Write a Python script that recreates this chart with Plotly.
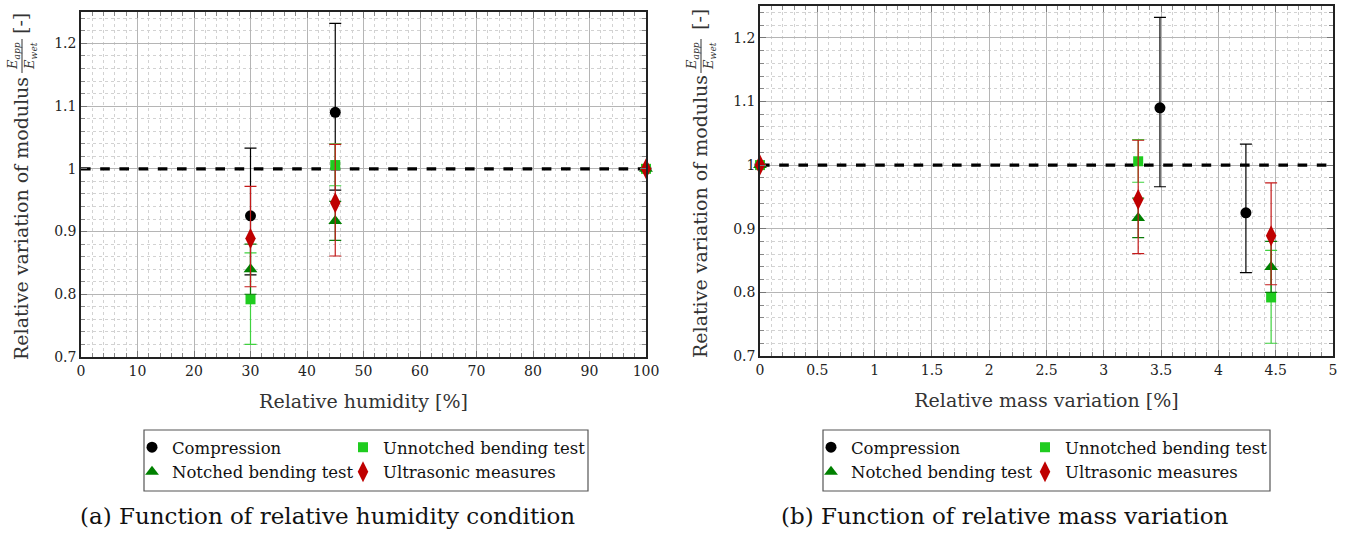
import plotly.graph_objects as go

# ---------------- data ----------------
humidity = [30, 45, 100]                 # relative humidity [%]
mass_compression = [4.24, 3.49, 0.0]     # relative mass variation [%] (compression specimens)
mass_other = [4.46, 3.30, 0.0]           # relative mass variation [%] (bending / ultrasonic specimens)

compression = [0.925, 1.090, 1.0]
compression_plus = [0.108, 0.142, 0.0]
compression_minus = [0.094, 0.124, 0.0]

unnotched = [0.792, 1.006, 1.0]
unnotched_plus = [0.074, 0.034, 0.0]
unnotched_minus = [0.072, 0.033, 0.0]

notched = [0.840, 0.917, 1.0]
notched_plus = [0.040, 0.031, 0.0]
notched_minus = [0.040, 0.031, 0.0]

ultrasonic = [0.889, 0.946, 1.0]
ultrasonic_plus = [0.083, 0.093, 0.0]
ultrasonic_minus = [0.077, 0.085, 0.0]

reference_level = 1.0
humidity_range = [0, 100]
mass_range = [0, 5]
ratio_range = [0.7, 1.25]

series_names = ["Compression", "Unnotched bending test", "Notched bending test", "Ultrasonic measures"]
caption_a = "(a) Function of relative humidity condition"
caption_b = "(b) Function of relative mass variation"

# ---------------- figure ----------------
W, H = 1349, 534
SERIF = "DejaVu Serif"

def px(x):
    return x / W

def py(y):
    return 1 - y / H

fig = go.Figure()

# reference level (dashed line at 1), drawn first so markers sit on top
for xa, ya, rng in [("x", "y", humidity_range), ("x2", "y2", mass_range)]:
    fig.add_trace(go.Scatter(x=rng, y=[reference_level] * len(rng), mode="lines",
                             xaxis=xa, yaxis=ya, showlegend=False, hoverinfo="skip",
                             line=dict(color="black", width=3.2, dash="dash")))

styles = [
    dict(name=series_names[0], y=compression, p=compression_plus, m=compression_minus,
         color="#000000", ecolor="#000000", symbol="circle", size=11, col=0),
    dict(name=series_names[1], y=unnotched, p=unnotched_plus, m=unnotched_minus,
         color="#1fcc1f", ecolor="#3fd23f", symbol="square", size=10, col=1),
    dict(name=series_names[2], y=notched, p=notched_plus, m=notched_minus,
         color="#008000", ecolor="#0a7a0a", symbol="triangle-up", size=12, col=0),
    dict(name=series_names[3], y=ultrasonic, p=ultrasonic_plus, m=ultrasonic_minus,
         color="#bf0000", ecolor="#c41a1a", symbol="diamond-tall", size=15, col=1),
]

for panel, (xa, ya) in enumerate([("x", "y"), ("x2", "y2")]):
    for s in styles:
        if panel == 0:
            xs = humidity
        else:
            xs = mass_compression if s["name"] == series_names[0] else mass_other
        legend_id = ["legend", "legend2", "legend3", "legend4"][panel * 2 + s["col"]]
        fig.add_trace(go.Scatter(
            x=xs, y=s["y"], mode="markers", name=s["name"],
            xaxis=xa, yaxis=ya, legend=legend_id, cliponaxis=False,
            marker=dict(color=s["color"], symbol=s["symbol"], size=s["size"], line=dict(width=0)),
            error_y=dict(type="data", symmetric=False, array=s["p"], arrayminus=s["m"],
                         color=s["ecolor"], thickness=1.2, width=6),
        ))

grid_major = "#b5b5b5"
grid_minor = "#d2d2d2"

def xaxis_cfg(domain, rng, dtick, minor_dtick, title, anchor):
    return dict(domain=domain, range=rng, dtick=dtick, tick0=0, anchor=anchor,
                showline=True, linecolor="#222222", linewidth=1.5, mirror="allticks",
                ticks="inside", ticklen=6, tickcolor="#777777",
                showgrid=True, gridcolor=grid_major, gridwidth=1, zeroline=False,
                tickfont=dict(family=SERIF, size=14, color="#222222"),
                title=dict(text=title, font=dict(family=SERIF, size=19, color="#333333"), standoff=17),
                minor=dict(dtick=minor_dtick, showgrid=True, gridcolor=grid_minor, griddash="dot",
                           gridwidth=1, ticks="inside", ticklen=4, tickcolor="#888888"))

def yaxis_cfg(domain, anchor):
    return dict(domain=domain, range=ratio_range, dtick=0.1, tick0=0.7, anchor=anchor,
                showline=True, linecolor="#222222", linewidth=1.5, mirror="allticks",
                ticks="inside", ticklen=6, tickcolor="#777777",
                showgrid=True, gridcolor=grid_major, gridwidth=1, zeroline=False,
                tickfont=dict(family=SERIF, size=14, color="#222222"),
                minor=dict(dtick=0.02, showgrid=True, gridcolor=grid_minor, griddash="dot",
                           gridwidth=1, ticks="inside", ticklen=4, tickcolor="#888888"))

fig.update_layout(
    width=W, height=H, margin=dict(l=0, r=0, t=0, b=0, autoexpand=False),
    paper_bgcolor="white", plot_bgcolor="white", showlegend=True,
    xaxis=xaxis_cfg([px(81), px(646)], humidity_range, 10, 2, "Relative humidity [%]", "y"),
    yaxis=yaxis_cfg([py(357), py(12)], "x"),
    xaxis2=xaxis_cfg([px(760), px(1333)], mass_range, 0.5, 0.1, "Relative mass variation [%]", "y2"),
    yaxis2=yaxis_cfg([py(356), py(6)], "x2"),
)

legend_common = dict(font=dict(family=SERIF, size=16.5, color="#111111"), bgcolor="rgba(0,0,0,0)",
                     borderwidth=0, itemwidth=30, xanchor="left", yanchor="top", orientation="v",
                     tracegroupgap=0, itemclick=False, itemdoubleclick=False)
fig.update_layout(
    legend=legend_common | dict(x=px(132), y=py(430)),
    legend2=legend_common | dict(x=px(343), y=py(430)),
    legend3=legend_common | dict(x=px(811), y=py(430)),
    legend4=legend_common | dict(x=px(1025), y=py(430)),
)

# legend frames
for x0, x1 in [(144, 588), (823, 1270)]:
    fig.add_shape(type="rect", xref="paper", yref="paper", x0=px(x0), x1=px(x1),
                  y0=py(491), y1=py(430), line=dict(color="#555555", width=1.2))

# y-axis titles with fraction
for cx, cy_main, cy_frac, cy_unit in [(21, 219, 56, 24), (700, 217, 56, 20)]:
    fig.add_annotation(text="Relative variation of modulus", xref="paper", yref="paper",
                       x=px(cx), y=py(cy_main), textangle=-90, showarrow=False,
                       xanchor="center", yanchor="middle",
                       font=dict(family=SERIF, size=19, color="#333333"))
    fig.add_annotation(text="<i>E<sub>app</sub></i><br><i>E<sub>wet</sub></i>", xref="paper", yref="paper",
                       x=px(cx + 1), y=py(cy_frac), textangle=-90, showarrow=False,
                       xanchor="center", yanchor="middle",
                       font=dict(family=SERIF, size=13, color="#333333"))
    fig.add_shape(type="line", xref="paper", yref="paper", x0=px(cx + 1), x1=px(cx + 1),
                  y0=py(cy_frac - 17), y1=py(cy_frac + 17), line=dict(color="#333333", width=1))
    fig.add_annotation(text="[-]", xref="paper", yref="paper",
                       x=px(cx - 1), y=py(cy_unit), textangle=-90, showarrow=False,
                       xanchor="center", yanchor="middle",
                       font=dict(family=SERIF, size=19, color="#333333"))

# captions
fig.add_annotation(text=caption_a, xref="paper", yref="paper", x=px(327), y=py(516),
                   xanchor="center", yanchor="middle",
                   showarrow=False, font=dict(family=SERIF, size=23, color="#111111"))
fig.add_annotation(text=caption_b, xref="paper", yref="paper", x=px(1005), y=py(516),
                   xanchor="center", yanchor="middle",
                   showarrow=False, font=dict(family=SERIF, size=23, color="#111111"))

fig.write_html("out.html", config={"displayModeBar": False},
               post_script="document.body.style.margin='0';document.body.style.overflow='hidden';")
